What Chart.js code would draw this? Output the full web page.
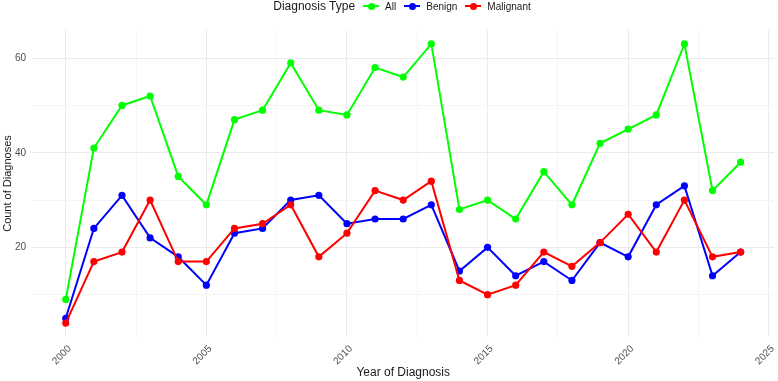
<!DOCTYPE html>
<html>
<head>
<meta charset="utf-8">
<script src="https://cdn.jsdelivr.net/npm/chart.js@4"></script>
<style>
html,body{margin:0;padding:0;background:#fff;}
#wrap{position:relative;width:778px;height:381px;}
#legend{position:absolute;top:-1px;left:34px;right:1px;height:14px;display:flex;justify-content:center;align-items:center;font-family:"Liberation Sans",Arial,sans-serif;color:#1a1a1a;}
#legend .title{font-size:12px;margin-right:7px;}
#legend .item{display:flex;align-items:center;margin-right:7px;font-size:10px;}
#legend .mk{position:relative;width:18px;height:10px;margin-right:5px;}
#legend .mk .ln{position:absolute;left:1px;right:1px;top:4px;height:2px;}
#legend .mk .pt{position:absolute;left:5.5px;top:1.5px;width:7px;height:7px;border-radius:50%;}
</style>
</head>
<body>
<div id="wrap">
<canvas id="c" width="778" height="381"></canvas>
<div id="legend"></div>
</div>
<script>
const years = [2000,2001,2002,2003,2004,2005,2006,2007,2008,2009,2010,2011,2012,2013,2014,2015,2016,2017,2018,2019,2020,2021,2022,2023,2024];
const allCounts =       [9,41,50,52,35,29,47,49,59,49,48,58,56,63,28,30,26,36,29,42,45,48,63,32,38];
const benignCounts =    [5,24,31,22,18,12,23,24,30,31,25,26,26,29,15,20,14,17,13,21,18,29,33,14,19];
const malignantCounts = [4,17,19,30,17,17,24,25,29,18,23,32,30,34,13,10,12,19,16,21,27,19,30,18,19];
const seriesNames = ["All","Benign","Malignant"];
const seriesColors = ["#00ff00","#0000ff","#ff0000"];
const xTicks = [2000,2002.5,2005,2007.5,2010,2012.5,2015,2017.5,2020,2022.5,2025];
const yTicks = [10,20,30,40,50,60];

const seriesData = [allCounts, benignCounts, malignantCounts];

// legend
const lg = document.getElementById('legend');
let html = '<span class="title">Diagnosis Type</span>';
seriesNames.forEach((n,i)=>{
  html += '<span class="item"><span class="mk"><span class="ln" style="background:'+seriesColors[i]+'"></span><span class="pt" style="background:'+seriesColors[i]+'"></span></span>'+n+'</span>';
});
lg.innerHTML = html;

const datasets = seriesNames.map((n,i)=>({
  label:n,
  data: years.map((y,j)=>({x:y,y:seriesData[i][j]})),
  borderColor: seriesColors[i],
  backgroundColor: seriesColors[i],
  borderWidth: 2,
  pointRadius: 3.6,
  pointHoverRadius: 3.6,
  pointBorderWidth: 0,
  tension: 0,
  order: 3-i
}));

new Chart(document.getElementById('c'), {
  type:'line',
  data:{datasets},
  options:{
    responsive:false,
    animation:false,
    events:[],
    layout:{padding:{top:30,right:1,left:0,bottom:0}},
    plugins:{legend:{display:false},tooltip:{enabled:false}},
    scales:{
      x:{
        type:'linear',
        min:1998.8, max:2025.2,
        afterBuildTicks: s => { s.ticks = xTicks.map(v=>({value:v})); },
        afterFit: s => { s.height = 44; s.paddingLeft = 0; s.paddingRight = 0; },
        border:{display:false},
        grid:{
          drawTicks:false,
          color: c => (c.tick && Math.abs(c.tick.value % 5) < 1e-6) ? '#ebebeb' : '#f5f5f5',
          lineWidth:1
        },
        ticks:{
          autoSkip:false, minRotation:45, maxRotation:45, padding:6, labelOffset:4,
          color:'#4d4d4d',
          font:{family:'"Liberation Sans", Arial, sans-serif', size:10},
          callback: v => (Math.abs(v % 5) < 1e-6) ? String(v) : ''
        },
        title:{display:true,text:'Year of Diagnosis',color:'#1a1a1a',
          font:{family:'"Liberation Sans", Arial, sans-serif', size:12},
          padding:{top:0,bottom:1}}
      },
      y:{
        min:1.05, max:65.95,
        afterBuildTicks: s => { s.ticks = yTicks.map(v=>({value:v})); },
        afterFit: s => { s.width = 32; s.paddingTop = 0; s.paddingBottom = 0; },
        border:{display:false},
        grid:{
          drawTicks:false,
          color: c => (c.tick && Math.abs(c.tick.value % 20) < 1e-6) ? '#ebebeb' : '#f5f5f5',
          lineWidth:1
        },
        ticks:{
          padding:6, color:'#4d4d4d',
          font:{family:'"Liberation Sans", Arial, sans-serif', size:10},
          callback: v => (Math.abs(v % 20) < 1e-6) ? String(v) : ''
        },
        title:{display:true,text:'Count of Diagnoses',color:'#1a1a1a',
          font:{family:'"Liberation Sans", Arial, sans-serif', size:11},
          padding:{top:1,bottom:0}}
      }
    }
  }
});
</script>
</body>
</html>
